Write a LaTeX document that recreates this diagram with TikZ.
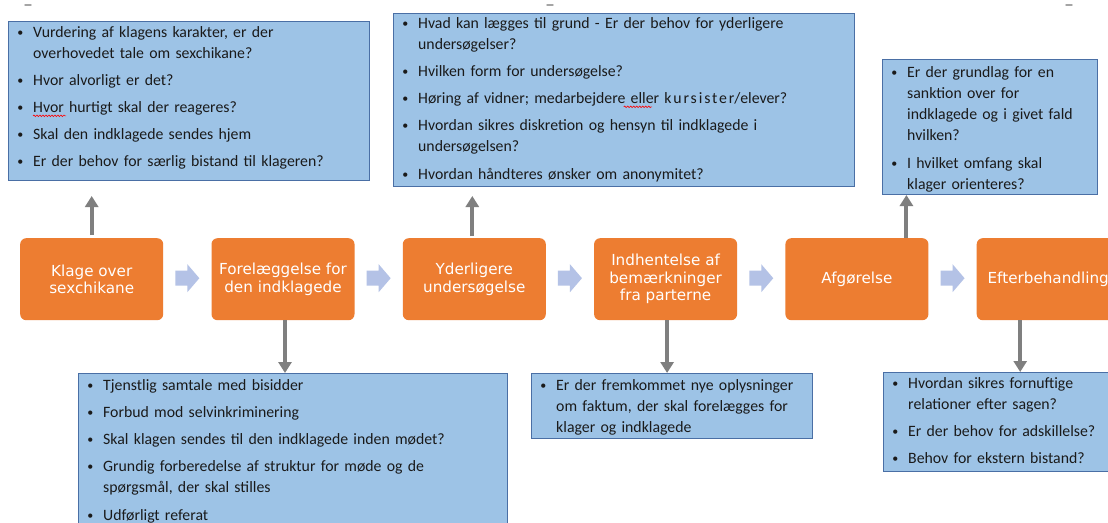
\documentclass[tikz,border=0pt]{standalone}
\usepackage{fontspec}
\setmainfont{Carlito}
\newfontfamily\orfont{DejaVu Sans}
\usetikzlibrary{arrows.meta,calc,decorations.pathmorphing}
\definecolor{orbox}{HTML}{ED7D31}
\definecolor{bfill}{HTML}{9DC3E6}
\definecolor{bdraw}{HTML}{4A6FA5}
\definecolor{chev}{HTML}{B4C2E6}
\definecolor{garrow}{HTML}{7F7F7F}
\definecolor{btxt}{HTML}{1A1A1A}
\newcommand\smbullet{\hspace{1.2pt}\raisebox{1.3pt}{\fontsize{12}{12}\selectfont\textbullet}}
\newcommand\bfirst[1]{\noindent\makebox[17pt][l]{\strut\smbullet}\parbox[t]{380pt}{\raggedright\strut #1\strut}}
\newcommand\bitem[1]{\par\bfirst{#1}}
\newcommand\bstart{\raggedright\setlength\parskip{6pt}\lineskip=0pt\lineskiplimit=0pt}
\newlength\eloff
\newlength\elwd
\tikzset{
  bluebox/.style={draw=bdraw, fill=bfill, line width=1pt, inner sep=0pt, anchor=north west},
  btext/.style={anchor=north west, inner sep=0pt, text width=420pt, text=btxt,
                font=\bfont},
  stage/.style={fill=orbox, rounded corners=6pt, minimum width=143pt, minimum height=82pt,
                inner sep=0pt, text=white, align=center, anchor=north west,
                font=\orfont\fontsize{15.2}{17.5}\selectfont},
  garr/.style={draw=garrow, line width=4pt, -{Triangle[width=13pt,length=11pt]}},
  chevshape/.style={fill=chev, draw=none},
  squig/.style={draw=red, line width=0.6pt, decorate,
                decoration={snake, amplitude=0.8pt, segment length=3pt}},
  topmark/.style={draw=garrow!70, line width=1.4pt, line cap=round}
}
\newcommand\bfont{\fontsize{15.8}{21}\selectfont}
\begin{document}
\settowidth\eloff{\bfont Høring af vidner; medarbejdere }
\settowidth\elwd{\bfont eller}
\begin{tikzpicture}[x=1pt,y=-1pt]
\clip (0,0) rectangle (1108,522);
\fill[white] (0,0) rectangle (1108,522);

% small marks at the top edge
\draw[topmark] (25,5) -- (31,5);
\draw[topmark] (547,5) -- (553,5);
\draw[topmark] (1066,5) -- (1072,5);

% stages
\node[stage] (s1) at (20,238)    {Klage over\\sexchikane};
\node[stage] (s2) at (211.3,238) {Forelæggelse for\\den indklagede};
\node[stage] (s3) at (402.6,238) {Yderligere\\undersøgelse};
\node[stage] (s4) at (593.9,238) {Indhentelse af\\bemærkninger\\fra parterne};
\node[stage] (s5) at (785.2,238) {Afgørelse};
\node[stage] (s6) at (976.5,238) {Efterbehandling};

% chevrons between stages
\foreach \a/\b in {s1/s2,s2/s3,s3/s4,s4/s5,s5/s6}{
  \coordinate (m) at ($(\a.east)!0.5!(\b.west)+(0,-1)$);
  \fill[chevshape] ($(m)+(-12,-7.5)$) -- ($(m)+(0,-7.5)$) -- ($(m)+(0,-14)$)
     -- ($(m)+(12,0)$) -- ($(m)+(0,14)$) -- ($(m)+(0,7.5)$) -- ($(m)+(-12,7.5)$) -- cycle;
}

% blue question boxes
\node[bluebox, minimum width=361pt, minimum height=159pt] (q1) at (8,21) {};
\node[bluebox, minimum width=461pt, minimum height=173pt] (q2) at (393,13) {};
\node[bluebox, minimum width=215pt, minimum height=135pt] (q3) at (882,59) {};
\node[bluebox, minimum width=429pt, minimum height=170pt] (q4) at (78,373) {};
\node[bluebox, minimum width=281pt, minimum height=65pt] (q5) at (531,373) {};
\node[bluebox, minimum width=226pt, minimum height=99pt] (q6) at (883,372) {};

% texts
\node[btext] (t1) at (16,22.8) {\bstart
  \bfirst{Vurdering af klagens karakter, er der\newline overhovedet tale om sexchikane?}
  \bitem{Hvor alvorligt er det?}
  \bitem{Hvor hurtigt skal der reageres?}
  \bitem{Skal den indklagede sendes hjem}
  \bitem{Er der behov for særlig bistand til klageren?}};
\node[btext] (t2) at (401,13.8) {\bstart
  \bfirst{Hvad kan lægges til grund - Er der behov for yderligere\newline undersøgelser?}
  \bitem{Hvilken form for undersøgelse?}
  \bitem{Høring af vidner; medarbejdere eller {\addfontfeature{LetterSpace=12}kursister}/elever?}
  \bitem{Hvordan sikres diskretion og hensyn til indklagede i\newline undersøgelsen?}
  \bitem{Hvordan håndteres ønsker om anonymitet?}};
\node[btext] (t3) at (890,62.8) {\bstart
  \bfirst{Er der grundlag for en\newline sanktion over for\newline indklagede og i givet fald\newline hvilken?}
  \bitem{I hvilket omfang skal\newline klager orienteres?}};
\node[btext] (t4) at (86,375.8) {\bstart
  \bfirst{Tjenstlig samtale med bisidder}
  \bitem{Forbud mod selvinkriminering}
  \bitem{Skal klagen sendes til den indklagede inden mødet?}
  \bitem{Grundig forberedelse af struktur for møde og de\newline spørgsmål, der skal stilles}
  \bitem{Udførligt referat}};
\node[btext] (t5) at (539,375.8) {\bstart
  \bfirst{Er der fremkommet nye oplysninger\newline om faktum, der skal forelægges for\newline klager og indklagede}};
\node[btext] (t6) at (891,373.8) {\bstart
  \bfirst{Hvordan sikres fornuftige\newline relationer efter sagen?}
  \bitem{Er der behov for adskillelse?}
  \bitem{Behov for ekstern bistand?}};

% spell-check squiggles
\draw[squig] ($(t1.north west)+(17,93)$) -- ++(33,0);
\draw[squig] ($(t2.north west)+(17,93)+(\eloff,0)$) -- ++(\elwd,0);

% gray connectors
\draw[garr, shorten <=3pt, shorten >=15pt] (s1.north) -- (s1.north |- q1.south);
\draw[garr, shorten <=2pt, shorten >=9pt] ([xshift=-2pt]s3.north) -- ([xshift=-2pt]s3.north |- q2.south);
\draw[garr] ([xshift=49.5pt]s5.north) -- ([xshift=49.5pt]s5.north |- q3.south);
\draw[garr] ([xshift=2pt]s2.south) -- ([xshift=2pt]s2.south |- q4.north);
\draw[garr] ([xshift=1.5pt]s4.south) -- ([xshift=1.5pt]s4.south |- q5.north);
\draw[garr] ([xshift=-28pt]s6.south) -- ([xshift=-28pt]s6.south |- q6.north);
\end{tikzpicture}
\end{document}
